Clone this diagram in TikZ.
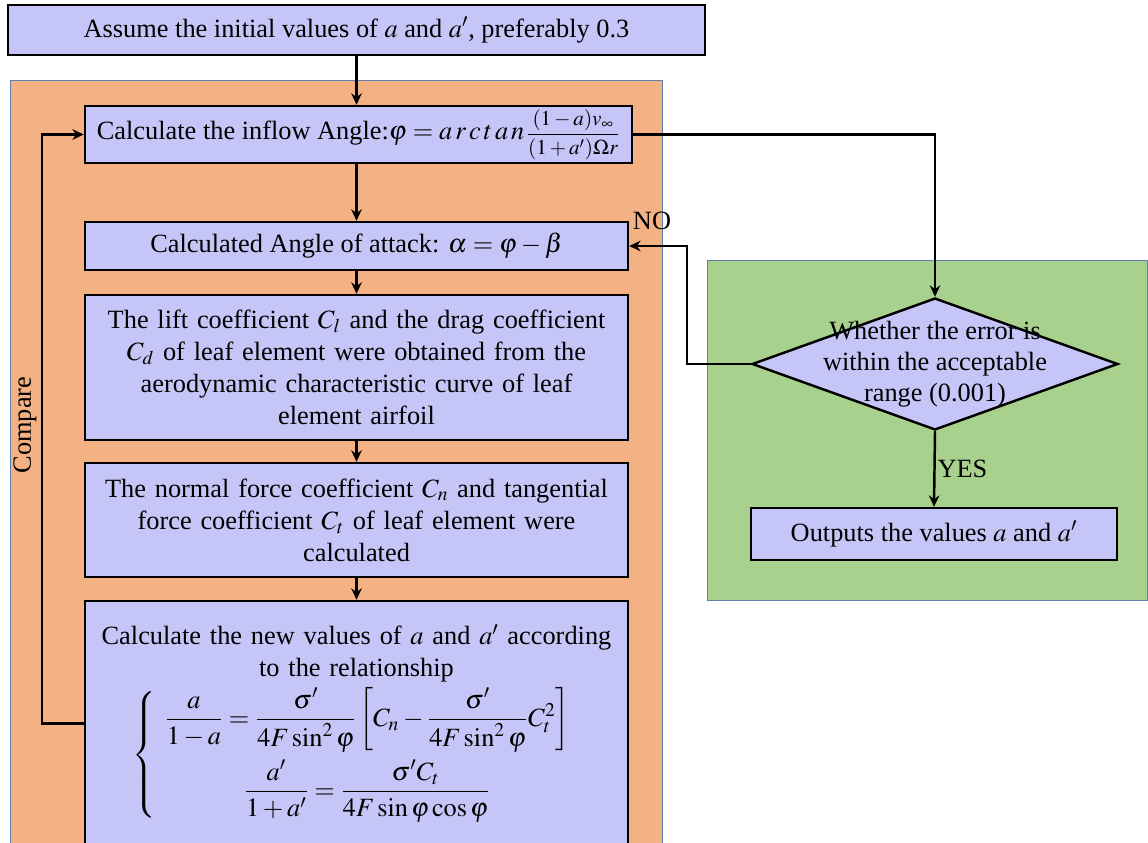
\documentclass[tikz,border=0pt]{standalone}
\usepackage{amsmath,amssymb}
\usepackage{mathptmx}
\usepackage{fontspec}
\setmainfont{Liberation Serif}
\usetikzlibrary{arrows.meta,positioning,shapes.geometric}
\definecolor{stepfill}{HTML}{C5C6F7}
\definecolor{loopzone}{HTML}{F4B183}
\definecolor{checkzone}{HTML}{A9D18E}
\definecolor{zoneline}{HTML}{5B7FAF}

\tikzset{
  stepbox/.style={draw, line width=1.4pt, fill=stepfill, align=center,
    inner sep=0pt, font=\fontsize{15}{18.3}\selectfont},
  flow/.style={line width=1.4pt, -{Stealth[length=6.5pt,width=6pt]}},
  zone/.style={draw=zoneline, line width=0.5pt},
  tag/.style={font=\fontsize{15}{18}\selectfont, inner sep=1pt}
}

\begin{document}
\begin{tikzpicture}[x=0.02cm, y=-0.02cm]
  \useasboundingbox (0,0) rectangle (1148,842);

  % Background zones
  \fill[loopzone] (10,80) rectangle (662,870);
  \draw[zone] (10,870) -- (10,80) -- (662,80) -- (662,870);
  \draw[zone, fill=checkzone] (707,260) rectangle (1147,600);

  % Steps
  \node[stepbox, minimum width=13.94cm, minimum height=1cm] (init) at (356.5,30)
    {Assume the initial values of $a$ and $a'$, preferably 0.3};
  \node[stepbox, minimum width=10.94cm, minimum height=1.14cm] (inflow) at (358.5,134.5)
    {Calculate the inflow Angle:$\varphi = a\,r\,c\,t\,a\,n$\hspace{1pt}{\fontsize{12}{13}\selectfont$\dfrac{(1-a)v_\infty}{(1+a')\Omega r}$}};
  \node[stepbox, minimum width=10.86cm, minimum height=0.96cm] (attack) at (356.5,246)
    {Calculated Angle of attack: $\alpha = \varphi - \beta$};
  \node[stepbox, minimum width=10.86cm, minimum height=2.9cm, text width=10.6cm] (lift) at (356.5,367.5)
    {The lift coefficient $C_l$ and the drag coefficient\\
     $C_d$ of leaf element were obtained from the\\
     aerodynamic characteristic curve of leaf\\
     element airfoil};
  \node[stepbox, minimum width=10.86cm, minimum height=2.28cm, text width=10.6cm] (force) at (356.5,520)
    {The normal force coefficient $C_n$ and tangential\\
     force coefficient $C_t$ of leaf element were\\
     calculated};
  \node[stepbox, minimum width=10.86cm, minimum height=4.9cm, text width=10.6cm] (update) at (356.5,723.5)
    {Calculate the new values of $a$ and $a'$ according\\
     to the relationship\\[2pt]
     $\left\{\begin{array}{c}
       \dfrac{a}{1-a} = \dfrac{\sigma'}{4F\sin^2\varphi}\left[C_n - \dfrac{\sigma'}{4F\sin^2\varphi}C_t^2\right]\\[14pt]
       \dfrac{a'}{1+a'} = \dfrac{\sigma' C_t}{4F\sin\varphi\cos\varphi}
     \end{array}\right.$};

  % Check
  \node[stepbox, diamond, minimum width=7.32cm, minimum height=2.64cm, aspect=2.77] (check) at (935,364) {};
  \node[font=\fontsize{15}{17.6}\selectfont, align=center] (checktext) at (check.center)
    {Whether the error is\\within the acceptable\\range (0.001)};
  \node[stepbox, minimum width=7.32cm, minimum height=1.04cm] (output) at (934,534)
    {Outputs the values $a$ and $a'$};

  % Connectors
  \draw[flow] (init.south) -- (init.south |- inflow.north);
  \draw[flow] (inflow.south -| attack.north) -- (attack.north);
  \draw[flow] (attack) -- (lift);
  \draw[flow] (lift) -- (force);
  \draw[flow] (force) -- (update);
  \draw[flow] (inflow.east) -| (check.north);
  \draw[flow] (check.west) -- ++(-64,0) |- (attack.east);
  \draw[flow] (check.south) -- (output.north) node[midway, right, tag] (yes) {YES};
  \draw[flow] (update.west) -- ++(-42,0) |- (inflow.west);

  % Labels
  \node[tag] (no) at (652,221) {NO};
  \node[tag, rotate=90] (compare) at (25,425) {Compare};
\end{tikzpicture}
\end{document}
